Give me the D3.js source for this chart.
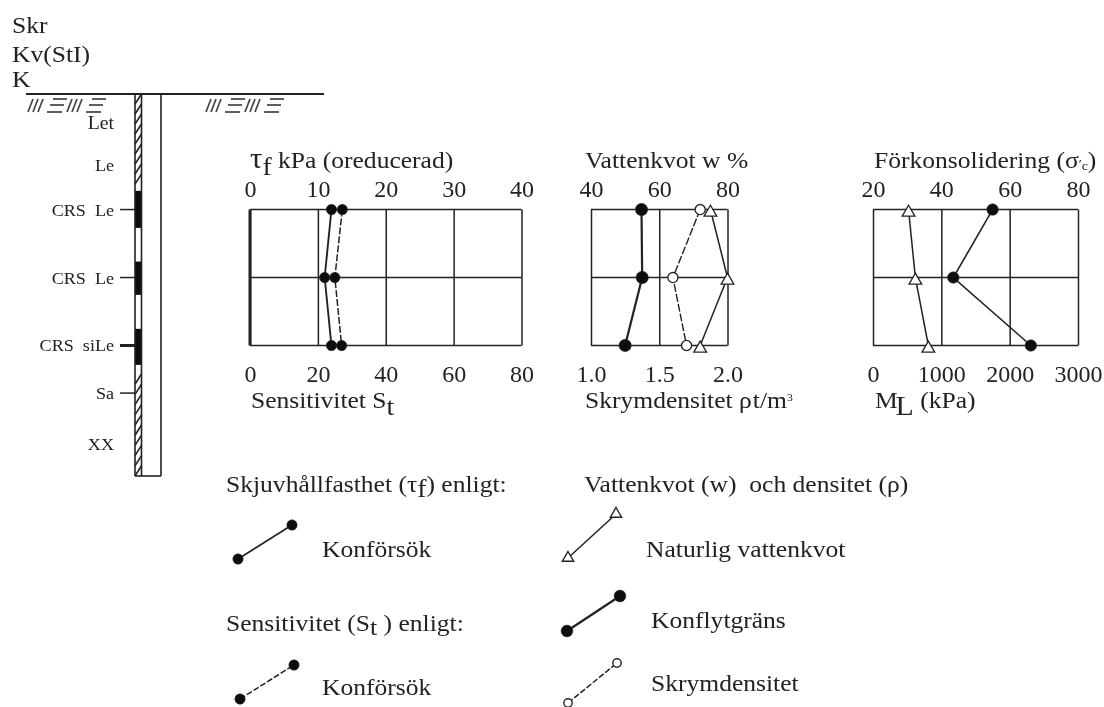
<!DOCTYPE html>
<html>
<head>
<meta charset="utf-8">
<style>
  html, body { margin: 0; padding: 0; background: #fff; }
  text { font-family: "Liberation Serif", serif; fill: #222; }
</style>
<script src="https://cdn.jsdelivr.net/npm/d3@7"></script>
</head>
<body>
<div id="chart"></div>
<script>
// depth of the three test levels, m
var levels = [3.4, 5.4, 7.4];

// panel 1
var tauValues = [12, 11, 12];
var sensValues = [27.2, 25, 27];
var tauTicks = [0, 10, 20, 30, 40];
var sensTicks = [0, 20, 40, 60, 80];

// panel 2
var liquidLimit = [54.8, 55, 50];
var waterContent = [75, 80, 72];
var density = [1.8, 1.6, 1.7];
var waterTicks = [40, 60, 80];
var densityTicks = [1.0, 1.5, 2.0];

// panel 3
var preconsValues = [55, 43.5, 66.2];
var modulusValues = [520, 620, 810];
var preconsTicks = [20, 40, 60, 80];
var modulusTicks = [0, 1000, 2000, 3000];

// soil log
var logLabels = ['Let', 'Le', 'CRS  Le', 'CRS  Le', 'CRS  siLe', 'Sa', 'XX'];
var logDepths = [0.85, 2.09, 3.4, 5.4, 7.4, 8.8, 10.3];
var sampleFrom = [2.85, 4.93, 6.91];
var sampleTo = [3.94, 5.91, 7.97];
var hatchFrom = [0, 8.24];
var hatchTo = [2.65, 11.24];

var width = 1104,
    height = 707;

var svg = d3.select('#chart').append('svg')
  .attr('width', width)
  .attr('height', height)
  .style('display', 'block');

svg.append('filter').attr('id', 'soft')
  .append('feGaussianBlur').attr('stdDeviation', 0.5);

var root = svg.append('g').attr('filter', 'url(#soft)');

var depthScale = d3.scaleLinear().domain([0, 11.24]).range([94, 476]);
var panelY = d3.scaleLinear().domain([levels[0], levels[2]]).range([depthScale(levels[0]), depthScale(levels[2])]);

var ink = '#222';
// the scan is a little stretched sideways
var stretch = 1.065;

function label(x, y, size, parts, anchor) {
  var t = root.append('text')
    .attr('transform', 'translate(' + x + ',' + y + ') scale(' + stretch + ',1)')
    .attr('font-size', size)
    .attr('text-anchor', anchor || 'start')
    .attr('xml:space', 'preserve');
  parts.forEach(function(p) {
    if (typeof p === 'string') {
      t.append('tspan').text(p);
    } else {
      t.append('tspan').attr('dx', p.dx || 0).attr('dy', p.dy || 0).attr('font-size', p.size || size).text(p.t);
    }
  });
  return t;
}

var circle = d3.symbol().type(d3.symbolCircle);
var triangle = d3.symbol().type(d3.symbolTriangle);

function drawPanel(x0, x1, topDomain, topTicks, botDomain, botTicks, botFormat) {
  var g = root.append('g');
  var topX = d3.scaleLinear().domain(topDomain).range([x0, x1]);
  var botX = d3.scaleLinear().domain(botDomain).range([x0, x1]);
  var y0 = panelY(levels[0]), y1 = panelY(levels[2]);

  var topAxis = d3.axisTop(topX).tickValues(topTicks).tickSizeInner(y0 - y1).tickSizeOuter(0);
  var botAxis = d3.axisBottom(botX).tickValues(botTicks).tickSize(0).tickPadding(19).tickFormat(botFormat || d3.format('d'));

  var ga = g.append('g').attr('transform', 'translate(0,' + y0 + ')').call(topAxis);
  var gb = g.append('g').attr('transform', 'translate(0,' + y1 + ')').call(botAxis);
  ga.select('.domain').remove();
  gb.select('.domain').remove();
  ga.selectAll('.tick line').attr('stroke', ink).attr('stroke-width', 1.5);
  [ga, gb].forEach(function(a) {
    a.selectAll('.tick text')
      .attr('font-family', '"Liberation Serif", serif')
      .attr('font-size', 24)
      .attr('fill', ink);
  });
  // the labels have to sit above the gridline ends
  ga.selectAll('.tick text').attr('y', -13);

  g.selectAll('.hline').data(levels).enter().append('line')
    .attr('class', 'hline')
    .attr('x1', x0).attr('x2', x1)
    .attr('y1', panelY).attr('y2', panelY)
    .attr('stroke', ink).attr('stroke-width', 1.5);

  return { g: g, topX: topX, botX: botX };
}

function drawSeries(panel, scale, values, opts) {
  var line = d3.line()
    .x(function(d) { return scale(d); })
    .y(function(d, i) { return panelY(levels[i]); });
  panel.g.append('path')
    .attr('d', line(values))
    .attr('fill', 'none')
    .attr('stroke', ink)
    .attr('stroke-width', opts.width || 1.5)
    .attr('stroke-dasharray', opts.dash || null);
  var gen = opts.shape === 'triangle' ? triangle.size(opts.size || 70) : circle.size(opts.size || 85);
  panel.g.selectAll(null).data(values).enter().append('path')
    .attr('d', gen)
    .attr('transform', function(d, i) {
      return 'translate(' + scale(d) + ',' + (panelY(levels[i]) + (opts.shape === 'triangle' ? 3 : 0)) + ')';
    })
    .attr('fill', opts.open ? '#fff' : '#111')
    .attr('stroke', ink)
    .attr('stroke-width', opts.open ? 1.3 : 0.5);
}

// soil log
var logLeft = 135, logMid = 141.5, logRight = 161;
var logG = root.append('g');

hatchFrom.forEach(function(d, i) {
  var n = Math.round((hatchTo[i] - d) / 0.3);
  d3.range(n).forEach(function(k) {
    var a = d + (hatchTo[i] - d) * k / n;
    var b = d + (hatchTo[i] - d) * (k + 1) / n;
    logG.append('line')
      .attr('x1', logLeft).attr('x2', logMid)
      .attr('y1', depthScale(b)).attr('y2', depthScale(a))
      .attr('stroke', ink).attr('stroke-width', 1.6);
  });
});

logG.selectAll('.sample').data(sampleFrom).enter().append('rect')
  .attr('class', 'sample')
  .attr('x', logLeft)
  .attr('width', logMid - logLeft)
  .attr('y', function(d) { return depthScale(d); })
  .attr('height', function(d, i) { return depthScale(sampleTo[i]) - depthScale(d); })
  .attr('fill', '#111');

[logLeft, logMid, logRight].forEach(function(x) {
  logG.append('line')
    .attr('x1', x).attr('x2', x)
    .attr('y1', depthScale(0)).attr('y2', depthScale(11.24))
    .attr('stroke', ink).attr('stroke-width', 1.6);
});
logG.append('line')
  .attr('x1', logLeft).attr('x2', logRight)
  .attr('y1', depthScale(11.24)).attr('y2', depthScale(11.24))
  .attr('stroke', ink).attr('stroke-width', 1.6);

// surface line and ground hatch
logG.append('line')
  .attr('x1', 26).attr('x2', 324)
  .attr('y1', depthScale(0)).attr('y2', depthScale(0))
  .attr('stroke', ink).attr('stroke-width', 1.8);

function groundHatch(x) {
  var g = logG.append('g').attr('transform', 'translate(' + x + ',99)').attr('stroke', '#444').attr('stroke-width', 1.7);
  [0, 39].forEach(function(off) {
    [0, 5, 10].forEach(function(s) {
      g.append('line').attr('x1', off + s).attr('x2', off + s + 5).attr('y1', 13).attr('y2', 0);
    });
    g.append('line').attr('x1', off + 25).attr('x2', off + 39).attr('y1', 0).attr('y2', 0);
    g.append('line').attr('x1', off + 22).attr('x2', off + 36).attr('y1', 6).attr('y2', 6);
    g.append('line').attr('x1', off + 19).attr('x2', off + 34).attr('y1', 13).attr('y2', 13);
  });
}
groundHatch(28);
groundHatch(206);

logLabels.forEach(function(t, i) {
  var y = depthScale(logDepths[i]);
  label(114, y + 6, i === 0 ? 18.5 : 17, [t], 'end');
  if (i >= 2 && i !== 6) {
    logG.append('line')
      .attr('x1', 120).attr('x2', logLeft)
      .attr('y1', y).attr('y2', y)
      .attr('stroke', ink)
      .attr('stroke-width', i === 4 ? 3 : 1.5);
  }
});

label(12, 33, 24, ['Skr']);
label(12, 62, 24, ['Kv(StI)']);
label(12, 87, 24, ['K']);

// panels
var p1 = drawPanel(250, 521.5, [0, 40], tauTicks, [0, 80], sensTicks);
root.append('line').attr('x1', 250).attr('x2', 250)
  .attr('y1', panelY(levels[0])).attr('y2', panelY(levels[2]))
  .attr('stroke', ink).attr('stroke-width', 3);
drawSeries(p1, p1.topX, tauValues, { width: 1.9 });
drawSeries(p1, p1.botX, sensValues, { width: 1.5, dash: '7 2' });

var p2 = drawPanel(591, 727.5, [40, 80], waterTicks, [1, 2], densityTicks, d3.format('.1f'));
drawSeries(p2, p2.topX, liquidLimit, { width: 2.2, size: 120 });
drawSeries(p2, p2.topX, waterContent, { width: 1.5, shape: 'triangle', open: true });
drawSeries(p2, p2.botX, density, { width: 1.4, dash: '8 2', open: true, size: 80 });

var p3 = drawPanel(873, 1078, [20, 80], preconsTicks, [0, 3000], modulusTicks);
drawSeries(p3, p3.botX, modulusValues, { width: 1.5, shape: 'triangle', open: true });
drawSeries(p3, p3.topX, preconsValues, { width: 1.6, size: 105 });

// panel titles
label(250, 168, 29, ['\u03C4', { t: 'f', dx: 0, dy: 7, size: 26 }, { t: ' kPa (oreducerad)', dy: -7, size: 24 }]);
label(585, 168, 24, ['Vattenkvot w %']);
label(874, 168, 24, ['F\u00F6rkonsolidering (\u03C3', { t: '\u2032', size: 13 }, { t: 'c', size: 13, dy: 2 }, { t: ')', dy: -2 }]);
label(251, 408, 24, ['Sensitivitet S', { t: 't', dy: 7, size: 26 }]);
label(585, 408, 24, ['Skrymdensitet', { t: '\u03C1', dx: 6 }, { t: 't/m', dx: 1 }, { t: '3', dy: -7, size: 11 }]);
label(875, 408, 24, ['M', { t: 'L', dx: -2, dy: 7, size: 28 }, { t: ' (kPa)', dy: -7, size: 24 }]);

// legend
function legendKey(pts, opts) {
  var x = d3.scaleLinear().domain([0, 1]).range([pts[0], pts[2]]);
  var y = d3.scaleLinear().domain([0, 1]).range([pts[1], pts[3]]);
  var ends = [0, 1];
  root.append('path')
    .attr('d', d3.line().x(x).y(y)(ends))
    .attr('stroke', ink)
    .attr('fill', 'none')
    .attr('stroke-width', opts.width || 1.5)
    .attr('stroke-dasharray', opts.dash || null);
  root.selectAll(null).data(ends).enter().append('path')
    .attr('d', opts.shape === 'triangle' ? d3.symbol().type(d3.symbolTriangle).size(55) : d3.symbol().type(d3.symbolCircle).size(opts.size || 85))
    .attr('transform', function(d) { return 'translate(' + x(d) + ',' + y(d) + ')'; })
    .attr('fill', opts.open ? '#fff' : '#111')
    .attr('stroke', ink)
    .attr('stroke-width', opts.open ? 1.4 : 0.5);
}

legendKey([238, 559, 292, 525], { width: 1.6 });
legendKey([240, 699, 294, 665], { width: 1.5, dash: '6 2' });
legendKey([568, 558, 616, 514], { shape: 'triangle', open: true });
legendKey([567, 631, 620, 596], { width: 2.2, size: 110 });
legendKey([568, 703, 617, 663], { dash: '6 2', open: true, size: 55 });

label(226, 492, 24, ['Skjuvh\u00E5llfasthet (\u03C4', { t: 'f', dy: 5, size: 26 }, { t: ') enligt:', dy: -5, size: 24 }]);
label(322, 557, 24, ['Konf\u00F6rs\u00F6k']);
label(226, 631, 24, ['Sensitivitet (S', { t: 't', dy: 4 }, { t: ' ) enligt:', dy: -4 }]);
label(322, 695, 24, ['Konf\u00F6rs\u00F6k']);
label(584, 492, 24, ['Vattenkvot (w)  och densitet (\u03C1)']);
label(646, 557, 24, ['Naturlig vattenkvot']);
label(651, 628, 24, ['Konflytgr\u00E4ns']);
label(651, 691, 24, ['Skrymdensitet']);
</script>
</body>
</html>
